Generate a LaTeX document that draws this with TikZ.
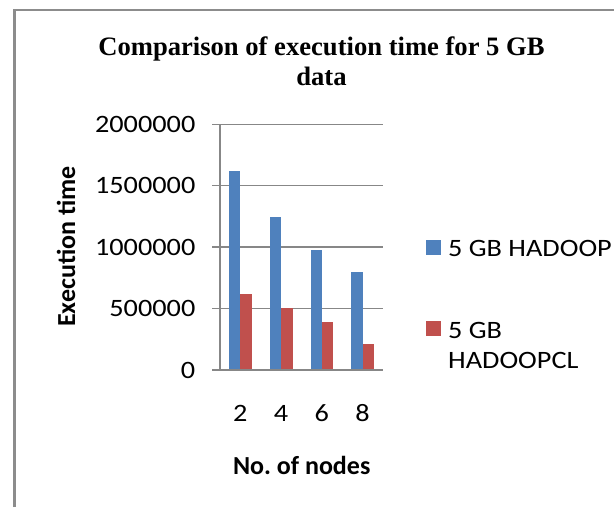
\documentclass[tikz,border=0pt]{standalone}
\usepackage{fontspec}
\usepackage{graphicx}
\setmainfont{Liberation Serif}
\newfontfamily\calib{Carlito}
\newcommand{\wide}[1]{\scalebox{1.13}[1]{#1}}
\definecolor{barblue}{HTML}{4F81BD}
\definecolor{barred}{HTML}{C0504D}
\definecolor{gridgray}{HTML}{878787}
\definecolor{framegray}{HTML}{8C8C8C}
\tikzset{
  titletext/.style={font=\fontsize{26.6}{30}\selectfont\bfseries, align=center, inner sep=0pt},
  ticktext/.style={font=\calib\fontsize{25}{30}\selectfont, inner sep=0pt},
  axtitle/.style={font=\calib\fontsize{26}{30}\selectfont\bfseries\frenchspacing, inner sep=0pt},
  legtext/.style={font=\calib\fontsize{25}{30}\selectfont, inner sep=0pt, anchor=west, align=left},
  gridline/.style={draw=gridgray, line width=1.4pt},
  bluebar/.style={fill=barblue},
  redbar/.style={fill=barred},
}
\begin{document}
\begin{tikzpicture}[x=1pt,y=-1pt]
\useasboundingbox (0,0) rectangle (614,507);
% frame
\draw[framegray, line width=2.2pt] (14.5,507) -- (14.5,10) -- (614,10);
% title
\node[titletext] (title) at (321.5,61) {Comparison of execution time for 5 GB\\data};
% gridlines
\foreach \v/\lab [count=\i] in {0/0,1/500000,2/1000000,3/1500000,4/2000000} {
  \draw[gridline] (212,{370-\v*61.43}) -- (383,{370-\v*61.43});
  \node[ticktext, anchor=east] (tick\i) at (195.5,{370-\v*61.43}) {\wide{\lab}};
}
% bars
\foreach \c/\b/\r [count=\i] in {240.4/1620/618, 281.1/1244/507, 321.8/973/390, 362.6/794/209} {
  \fill[bluebar] ({\c-11.2},370) rectangle (\c,{370-\b*0.12286});
  \fill[redbar] (\c,370) rectangle ({\c+11.6},{370-\r*0.12286});
}
% axes
\draw[gridline] (220,124.3) -- (220,370);
\draw[gridline] (212,370) -- (383,370);
% category labels
\foreach \c/\lab [count=\i] in {240.4/2, 281.1/4, 321.8/6, 362.6/8} {
  \node[ticktext] (cat\i) at (\c,413.5) {\wide{\lab}};
}
\node[axtitle] (xtitle) at (301.7,465) {No. of nodes};
\node[axtitle, rotate=90] (ytitle) at (66,246.5) {Execution time};
% legend
\fill[barblue] (426,240) rectangle (440.7,254.7);
\node[legtext] (leg1) at (448,248.5) {\wide{5 GB HADOOP}};
\fill[barred] (426,321) rectangle (440.7,335.7);
\node[legtext] (leg2) at (448,345) {\wide{5 GB}\\\wide{HADOOPCL}};
\end{tikzpicture}
\end{document}
